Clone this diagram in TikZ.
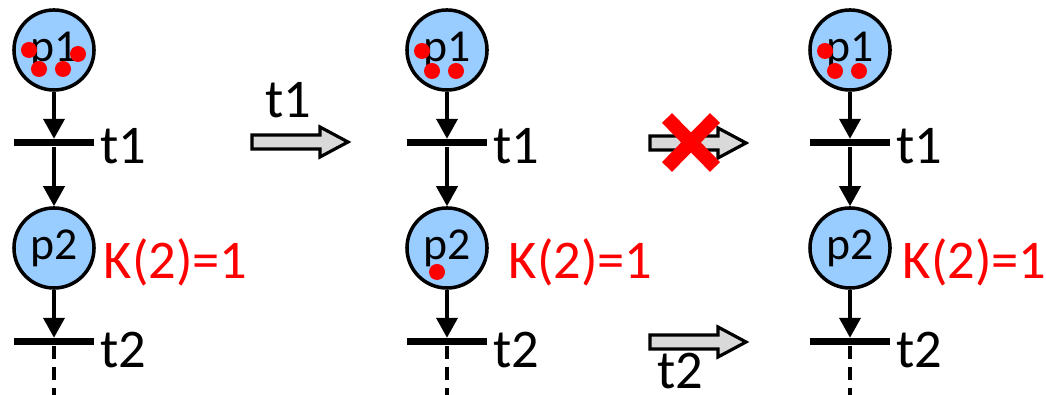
\documentclass[tikz,border=0pt]{standalone}
\usepackage{fontspec}
\setmainfont{Carlito}
\usepackage{tikz}
\usetikzlibrary{positioning, arrows.meta}
\definecolor{placeblue}{RGB}{153,204,255}
\definecolor{shiftgray}{RGB}{217,217,217}

\begin{document}
\begin{tikzpicture}[x=0.01cm, y=-0.01cm,
    place/.style={circle, draw, line width=1pt, fill=placeblue, minimum size=0.8cm, inner sep=0pt, font=\fontsize{13}{15}\selectfont},
    bar/.style={rectangle, fill=black, minimum width=0.8cm, minimum height=0.07cm, inner sep=0pt},
    token/.style={circle, fill=red, minimum size=0.16cm, inner sep=0pt},
    flow/.style={line width=1.1pt, -{Triangle[length=0.2cm, width=0.21cm]}},
    trail/.style={line width=0.9pt, dash pattern=on 0.13cm off 0.08cm},
    trlabel/.style={inner sep=0pt, font=\fontsize{15.5}{18}\selectfont},
    caplabel/.style={inner sep=0pt, anchor=west, text=red, font=\fontsize{15.5}{18}\selectfont},
    fire/.pic={\draw[line width=0.9pt, fill=shiftgray] (0,-7) -- (68,-7) -- (68,-15) -- (96,0) -- (68,15) -- (68,7) -- (0,7) -- cycle;}
  ]
  \useasboundingbox (0,0) rectangle (1046,395);

  % the three states of the net
  \foreach \c/\x in {a/54, b/447, c/850} {
    \node[place] (p1\c) at (\x,50) {p1};
    \node[bar] (t1\c) at (\x,143) {};
    \node[place] (p2\c) at (\x,248) {p2};
    \node[bar] (t2\c) at (\x,342) {};
    \coordinate (end\c) at (\x,395);
    \node[trlabel, anchor=west] (t1lbl\c) at (\x+46,146) {t1};
    \node[trlabel, anchor=west] (t2lbl\c) at (\x+46,350) {t2};
    \draw[flow] (p1\c) -- (t1\c);
    \draw[flow] (t1\c) -- (p2\c);
    \draw[flow] (p2\c) -- (t2\c);
    \draw[trail] (t2\c) -- (end\c);
  }

  % capacity of p2
  \node[caplabel] (capa) at (103,262) {K(2)=1};
  \node[caplabel] (capb) at (508,262) {K(2)=1};
  \node[caplabel] (capc) at (902,262) {K(2)=1};

  % tokens
  \node[token] at ([shift={(-25,0)}]p1a) {};
  \node[token] at ([shift={(-15,19)}]p1a) {};
  \node[token] at ([shift={(9,19)}]p1a) {};
  \node[token] at ([shift={(24,4)}]p1a) {};
  \foreach \c in {b, c} {
    \node[token] at ([shift={(-25,1)}]p1\c) {};
    \node[token] at ([shift={(-15,21)}]p1\c) {};
    \node[token] at ([shift={(9,21)}]p1\c) {};
  }
  \node[token] at ([shift={(-10,24)}]p2b) {};

  % firing steps
  \pic at (252,142) {fire};
  \node[trlabel] (fire1) at (288,100) {t1};
  \pic at (650,143) {fire};
  \draw[red, line width=0.14cm] (667,118) -- (715,167) (715,118) -- (667,167);
  \pic at (650,342) {fire};
  \node[trlabel] (fire2) at (680,371) {t2};
\end{tikzpicture}
\end{document}
